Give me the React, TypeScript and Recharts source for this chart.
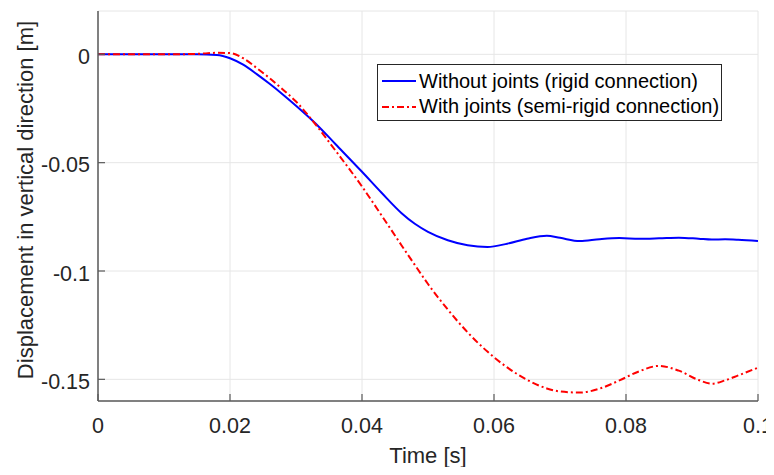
import React from "react";
import {
  LineChart,
  Line,
  XAxis,
  YAxis,
  CartesianGrid,
  Legend,
} from "recharts";

// time samples [s]
const time = [
  0, 0.005, 0.01, 0.015, 0.018, 0.02, 0.022, 0.024, 0.026, 0.028, 0.03, 0.033,
  0.036, 0.04, 0.043, 0.046, 0.048, 0.05, 0.053, 0.056, 0.059, 0.062, 0.065,
  0.068, 0.07, 0.073, 0.076, 0.079, 0.082, 0.085, 0.088, 0.091, 0.093, 0.095,
  0.097, 0.1,
];

// without joints (rigid connection)
const rigid = [
  0, 0, 0, 0, -0.0003, -0.0018, -0.0048, -0.009, -0.0136, -0.0185, -0.0237,
  -0.032, -0.0415, -0.0542, -0.064, -0.0733, -0.0782, -0.0819, -0.0858,
  -0.0881, -0.0889, -0.0874, -0.0851, -0.0837, -0.0847, -0.0862, -0.0853,
  -0.0848, -0.0851, -0.0849, -0.0846, -0.0851, -0.0855, -0.0854, -0.0856,
  -0.0862,
];

// with joints (semi-rigid connection)
const semiRigid = [
  0, 0, 0, 0.0002, 0.0007, 0.0006, -0.0018, -0.0062, -0.011, -0.0162,
  -0.0218, -0.0325, -0.0445, -0.061, -0.0745, -0.0882, -0.0972, -0.106,
  -0.1178, -0.1283, -0.1372, -0.1445, -0.1502, -0.1542, -0.1556, -0.1561,
  -0.1543, -0.1505, -0.1463, -0.1438, -0.146, -0.1503, -0.152, -0.1505,
  -0.1482, -0.1446,
];

const xTicks = [0, 0.02, 0.04, 0.06, 0.08, 0.1];
const xTickLabels = ["0", "0.02", "0.04", "0.06", "0.08", "0.1"];
const yTicks = [0, -0.05, -0.1, -0.15];
const yTickLabels = ["0", "-0.05", "-0.1", "-0.15"];

const data = time.map((t, i) => ({ t, rigid: rigid[i], semi: semiRigid[i] }));

const FONT = "'Liberation Sans', Arial, Helvetica, sans-serif";
const TEXT = "#262626";
const AXIS = "#5a5a5a";
const TICK_LEN = 7;

const BottomTick = (props: any) => {
  const { x, y, payload } = props;
  const i = xTicks.indexOf(payload.value);
  return (
    <g>
      <line x1={x} y1={y} x2={x} y2={y - TICK_LEN} stroke={AXIS} strokeWidth={1.2} />
      <text x={x} y={y + 31.5} textAnchor="middle" fontSize={21.5} fill={TEXT} fontFamily={FONT}>
        {i >= 0 ? xTickLabels[i] : payload.value}
      </text>
    </g>
  );
};

const LeftTick = (props: any) => {
  const { x, y, payload } = props;
  const i = yTicks.indexOf(payload.value);
  return (
    <g>
      <line x1={x} y1={y} x2={x + TICK_LEN} y2={y} stroke={AXIS} strokeWidth={1.2} />
      <text x={x - 8} y={y + 9.5} textAnchor="end" fontSize={21.5} fill={TEXT} fontFamily={FONT}>
        {i >= 0 ? yTickLabels[i] : payload.value}
      </text>
    </g>
  );
};

const TopTick = (props: any) => {
  const { x, y } = props;
  return <line x1={x} y1={y} x2={x} y2={y + TICK_LEN} stroke={AXIS} strokeWidth={1.2} />;
};

const RightTick = (props: any) => {
  const { x, y } = props;
  return <line x1={x} y1={y} x2={x - TICK_LEN} y2={y} stroke={AXIS} strokeWidth={1.2} />;
};

const series = [
  { key: "rigid", name: "Without joints (rigid connection)", color: "#0000ff", dash: undefined },
  { key: "semi", name: "With joints (semi-rigid connection)", color: "#ff0000", dash: "7 3 2 3" },
];

const LegendBox = () => (
  <div
    style={{
      position: "relative",
      width: 343,
      height: 55,
      border: "1px solid #262626",
      background: "#fff",
      fontFamily: FONT,
      fontSize: 20,
      color: "#000",
    }}
  >
    {series.map((s, i) => (
      <div
        key={s.key}
        style={{
          position: "absolute",
          left: 4,
          top: 4 + i * 25.5,
          height: 24,
          display: "flex",
          alignItems: "center",
          whiteSpace: "nowrap",
        }}
      >
        <svg width={34} height={24} style={{ marginRight: 3 }}>
          <line x1={0} y1={12} x2={34} y2={12} stroke={s.color} strokeWidth={2} strokeDasharray={s.dash} />
        </svg>
        <span>{s.name}</span>
      </div>
    ))}
  </div>
);

export default function App() {
  return (
    <div style={{ margin: -8, width: 774, height: 475, overflow: "hidden" }}>
      <LineChart
        width={774}
        height={475}
        data={data}
        margin={{ top: 11, right: 16, bottom: 0, left: 0 }}
        style={{ fontFamily: FONT }}
      >
        <CartesianGrid stroke="#e6e6e6" strokeWidth={1} />
        <XAxis
          dataKey="t"
          type="number"
          domain={[0, 0.1]}
          ticks={xTicks}
          height={74}
          tickSize={0}
          tickMargin={0}
          tickLine={false}
          tick={<BottomTick />}
          stroke={AXIS}
          strokeWidth={1.5}
          label={({ viewBox }: any) => (
            <text
              x={viewBox.x + viewBox.width / 2}
              y={viewBox.y + 62}
              textAnchor="middle"
              fontSize={22}
              fill={TEXT}
              fontFamily={FONT}
            >
              Time [s]
            </text>
          )}
        />
        <XAxis
          xAxisId="top"
          orientation="top"
          type="number"
          domain={[0, 0.1]}
          ticks={xTicks}
          height={0}
          tickSize={0}
          tickMargin={0}
          tickLine={false}
          tick={<TopTick />}
          stroke={AXIS}
          strokeWidth={1.5}
        />
        <YAxis
          type="number"
          domain={[-0.16, 0.02]}
          ticks={yTicks}
          width={98}
          tickSize={0}
          tickMargin={0}
          tickLine={false}
          tick={<LeftTick />}
          stroke={AXIS}
          strokeWidth={1.5}
          label={({ viewBox }: any) => {
            const cx = 33;
            const cy = viewBox.y + viewBox.height / 2 - 6;
            return (
              <text
                x={cx}
                y={cy}
                transform={`rotate(-90 ${cx} ${cy})`}
                textAnchor="middle"
                fontSize={22}
                fill={TEXT}
                fontFamily={FONT}
              >
                Displacement in vertical direction [m]
              </text>
            );
          }}
        />
        <YAxis
          yAxisId="right"
          orientation="right"
          type="number"
          domain={[-0.16, 0.02]}
          ticks={yTicks}
          width={0}
          tickSize={0}
          tickMargin={0}
          tickLine={false}
          tick={<RightTick />}
          stroke={AXIS}
          strokeWidth={1.5}
        />
        <Legend
          layout="horizontal"
          align="center"
          verticalAlign="middle"
          content={<LegendBox />}
          wrapperStyle={{ left: 377, top: 64, width: 345, height: 57 }}
        />
        <Line
          type="monotone"
          dataKey="rigid"
          name={series[0].name}
          stroke={series[0].color}
          strokeWidth={2}
          dot={false}
          activeDot={false}
          isAnimationActive={false}
        />
        <Line
          type="monotone"
          dataKey="semi"
          name={series[1].name}
          stroke={series[1].color}
          strokeWidth={2}
          strokeDasharray={series[1].dash}
          dot={false}
          activeDot={false}
          isAnimationActive={false}
        />
      </LineChart>
    </div>
  );
}
